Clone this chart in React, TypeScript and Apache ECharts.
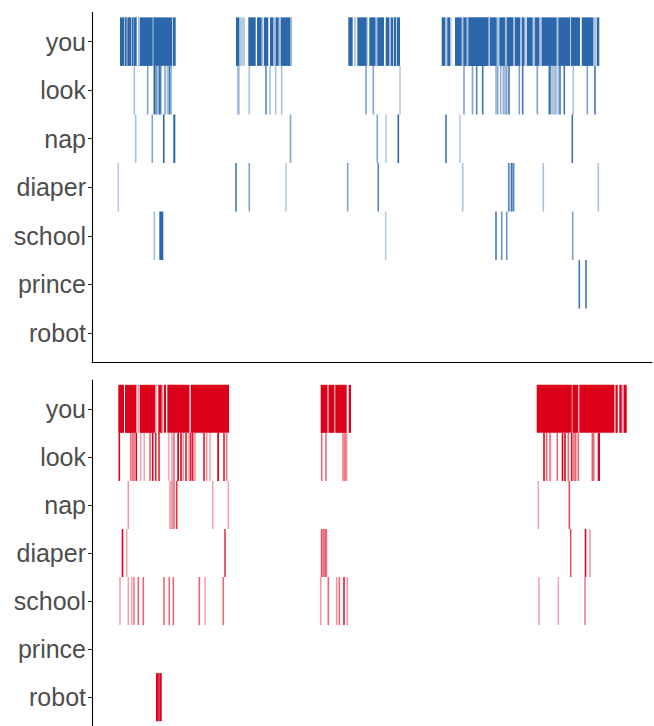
import React, { useEffect, useRef } from "react";
import * as echarts from "echarts";

// Word rows (top to bottom)
const WORDS = ["you", "look", "nap", "diaper", "school", "prince", "robot"];

// Text position range shown on the x axis
const X_MIN = 92;
const X_MAX = 652;

// Marks: [position, strength] for a single occurrence, [from, to, strength] for a dense run
// ---- Blue panel ----
const blueYou = [
  [120, 124, 1], [124, 125, 0.4], [125, 126.7, 1], [127.3, 131.3, 1], [132, 133.3, 1], [133.3, 134, 0.4],
  [134, 136.7, 1], [138, 140, 0.4], [140, 152.7, 1], [153.3, 172, 1], [172.7, 175.7, 1],
  [236, 239.3, 1], [239.3, 245, 0.35], [248.3, 255.7, 1], [257, 261.7, 1], [262, 263.5, 0.4], [264, 268.3, 1],
  [270, 273.3, 1], [273.3, 275.7, 0.4], [275.7, 278.7, 1], [279, 280.5, 0.4], [280.7, 290, 1], [290, 292, 0.5],
  [348.3, 352.7, 1], [354, 356, 0.35], [357.3, 366.7, 1], [366.7, 368, 0.35], [369.3, 375.5, 1], [375.5, 377.3, 0.4],
  [377.3, 384, 1], [385.7, 389.3, 1], [389.5, 391, 0.4], [391, 393.3, 1], [394, 396, 1], [396.7, 400, 1],
  [441.7, 445, 1], [445, 447.3, 0.4], [447.3, 450, 1], [450, 451.5, 0.4], [455, 461.7, 1], [461.7, 463.3, 0.4],
  [463.3, 466.7, 1], [466.7, 468.3, 0.4], [468.3, 488.5, 1], [488.5, 490, 0.4], [490, 496.7, 1], [496.7, 499, 0.4],
  [499.3, 505, 1], [505, 506.7, 0.4], [506.7, 513.3, 1], [513.3, 515, 0.4], [515, 520, 1], [520, 522, 0.4],
  [522, 524.5, 1], [524.5, 527, 0.3], [527, 532.7, 1], [532.7, 535, 0.4], [535, 539.3, 1], [539.3, 541.7, 0.4],
  [541.7, 556.7, 1], [556.7, 558.3, 0.4], [558.3, 570, 1], [570.7, 580, 1], [581.7, 593.3, 1], [593.3, 596, 0.4],
  [596.7, 599.3, 1],
];
const blueLook = [
  [134.3, 0.4], [147.7, 0.6], [154.3, 1], [156, 0.8], [157.7, 0.4], [159.3, 0.9], [160.7, 0.8], [165, 0.6],
  [167.3, 0.4], [169.3, 0.9], [171, 0.6], [237.7, 0.4], [238.9, 0.4], [249.3, 0.4], [266, 0.8], [270, 0.4],
  [275.7, 0.4], [281.7, 0.4], [366, 0.6], [373.3, 0.6], [400, 0.35], [464, 0.6], [472.5, 0.6], [476.7, 0.8],
  [482.7, 0.9], [496, 0.5], [497.7, 0.6], [500.7, 0.5], [503.3, 0.5], [505, 0.5], [506.7, 0.6], [509, 0.9],
  [519.3, 0.6], [522.7, 0.9], [537.3, 0.6], [549.3, 0.9], [550.7, 0.7], [552.7, 0.4], [554.3, 0.4], [556, 0.5],
  [558.3, 0.4], [560, 0.9], [564.3, 0.9], [573.3, 0.4], [587.3, 0.6], [595, 0.9],
];
const blueNap = [
  [135.7, 0.4], [152.3, 0.6], [163, 164.5, 1], [173.3, 175.3, 1], [290.5, 0.6], [377.3, 0.6], [386, 0.35],
  [398.3, 1], [446, 0.9], [460, 0.35], [572.3, 0.9],
];
const blueDiaper = [
  [118.3, 0.35], [236, 0.9], [249.3, 0.6], [286, 0.35], [347.7, 0.6], [377.5, 379, 0.8], [462.7, 0.4],
  [508, 514, 0.25], [508.7, 0.7], [511.7, 0.9], [513.7, 0.7], [543.3, 0.4], [598.3, 0.4],
];
const blueSchool = [
  [154.3, 0.4], [159.3, 163.3, 1], [385.7, 0.35], [496, 0.9], [501.7, 0.7], [506.7, 0.7], [572.7, 0.6],
];
const bluePrince = [[579.3, 0.9], [586, 0.9]];
const blueRobot: number[][] = [];

// ---- Red panel ----
const redYou = [
  [118.3, 124, 1], [125, 136, 1], [136, 137.5, 0.4], [138.5, 139.3, 0.4], [140, 155, 1], [155, 156.7, 0.4],
  [158.3, 161.7, 1], [161.7, 163.3, 0.4], [164, 166, 1], [167.3, 189.3, 1], [189.3, 191, 0.3], [191, 229, 1],
  [320.7, 327.3, 1], [327.3, 328.7, 0.4], [328.7, 334, 1], [334, 335.3, 0.4], [335.3, 346.7, 1], [348.7, 351, 1],
  [536.7, 571.7, 1], [571.7, 572.7, 0.4], [572.7, 578.3, 1], [579.3, 614, 1], [614, 615.7, 0.4], [615.7, 617.7, 1],
  [619.3, 621.7, 1], [621.7, 623.7, 0.35], [623.7, 626.7, 1],
];
const redLook = [
  [119.3, 1], [130.7, 0.5], [132.3, 0.5], [134, 0.6], [136.3, 1], [140.7, 0.35], [144.3, 0.35], [150, 0.6],
  [152.7, 1], [155.7, 0.9], [159, 0.9], [168.7, 0.35], [172, 0.4], [174, 0.6], [177.3, 179, 1], [181, 1],
  [183.3, 0.4], [186, 0.9], [189, 0.4], [190.7, 0.9], [192.7, 0.9], [195, 0.4], [204, 0.9], [206.7, 0.4],
  [210, 0.35], [217.3, 219, 1], [224, 0.9], [226.7, 0.5],
  [321.7, 0.6], [326, 0.6], [342.7, 0.4], [344, 0.4], [345.3, 0.5], [346.7, 0.4],
  [544, 1], [546.7, 0.6], [550, 0.6], [557.3, 0.6], [561.7, 563.3, 1], [565, 1], [568.3, 0.6], [571.7, 1],
  [574, 0.6], [575.7, 0.6], [578.3, 0.6], [592.3, 0.6], [593.7, 0.6], [597.7, 600, 1],
];
const redNap = [
  [128.3, 0.4], [170, 0.4], [172, 0.5], [174, 0.6], [176.7, 0.8], [212.7, 0.35], [228.3, 0.35], [538.3, 0.35],
  [569.3, 0.7],
];
const redDiaper = [
  [121.7, 123.3, 1], [126.7, 0.35], [225, 0.8], [320.7, 327.3, 0.25], [321.7, 0.6], [324, 0.5], [326, 0.6],
  [570.7, 0.7], [585, 586, 1], [590, 0.4],
];
const redSchool = [
  [120, 0.35], [128.3, 0.35], [131.7, 0.35], [134, 0.5], [138.3, 0.6], [143.3, 0.6], [164, 0.6], [169.3, 0.6],
  [173.3, 0.6], [199.3, 0.6], [205, 0.35], [223.3, 0.6], [320.7, 0.4], [328.3, 0.6], [336.7, 0.4], [339.3, 0.6],
  [344, 0.9], [347.3, 0.4], [539, 0.35], [558.3, 0.35], [585, 0.5],
];
const redPrince: number[][] = [];
const redRobot = [[156, 158.7, 1], [158.7, 159.3, 0.4], [159.3, 161.7, 1]];

const BLUE = "#2C67AB";
const RED = "#DD0019";

const BLUE_ROWS = [blueYou, blueLook, blueNap, blueDiaper, blueSchool, bluePrince, blueRobot];
const RED_ROWS = [redYou, redLook, redNap, redDiaper, redSchool, redPrince, redRobot];

function toItems(rows: number[][][]) {
  const out: number[][] = [];
  rows.forEach((marks, i) => {
    marks.forEach((m) => {
      if (m.length === 2) out.push([i + 1, m[0], m[0], m[1]]);
      else out.push([i + 1, m[0], m[1], m[2]]);
    });
  });
  return out;
}

const MIN_W = 1.6;

function makeRender(color: string) {
  return (params: any, api: any) => {
    const row = api.value(0);
    const x0 = api.value(1);
    const x1 = api.value(2);
    const a = api.value(3);
    const p0 = api.coord([x0, row - 0.5]);
    const p1 = api.coord([x1, row + 0.5]);
    let left = Math.min(p0[0], p1[0]);
    let w = Math.abs(p1[0] - p0[0]);
    if (w < MIN_W) {
      const c = (p0[0] + p1[0]) / 2;
      left = c - MIN_W / 2;
      w = MIN_W;
    }
    const top = Math.min(p0[1], p1[1]);
    const h = Math.abs(p1[1] - p0[1]);
    return {
      type: "rect",
      shape: { x: left, y: top, width: w, height: h },
      style: { fill: color, opacity: a },
    };
  };
}

const TICKS = [1, 2, 3, 4, 5, 6, 7];

function yAxis(gridIndex: number) {
  return {
    type: "value",
    gridIndex,
    min: 0.4,
    max: 7.6,
    inverse: true,
    axisLine: { show: true, lineStyle: { color: "#000", width: 1.1 } },
    axisTick: { show: true, customValues: TICKS, length: 4, lineStyle: { color: "#333", width: 1.1 } },
    axisLabel: {
      show: true,
      customValues: TICKS,
      margin: 6,
      fontSize: 25,
      color: "#4D4D4D",
      padding: [4, 0, 0, 0],
      fontFamily: "Liberation Sans, Arial, sans-serif",
      formatter: (v: number) => WORDS[Math.round(v) - 1] ?? "",
    },
    splitLine: { show: false },
  };
}

function xAxis(gridIndex: number) {
  return {
    type: "value",
    gridIndex,
    min: X_MIN,
    max: X_MAX,
    axisLine: { show: true, onZero: false, lineStyle: { color: "#000", width: 1.1 } },
    axisTick: { show: false },
    axisLabel: { show: false },
    splitLine: { show: false },
  };
}

export default function App() {
  const ref = useRef<HTMLDivElement>(null);
  useEffect(() => {
    if (!ref.current) return;
    const chart = echarts.init(ref.current, null, { renderer: "svg" });
    chart.setOption({
      animation: false,
      backgroundColor: "#fff",
      grid: [
        { left: X_MIN, width: X_MAX - X_MIN, top: 12.5, height: 349.5 },
        { left: X_MIN, width: X_MAX - X_MIN, top: 380, height: 350 },
      ],
      xAxis: [xAxis(0), xAxis(1)],
      yAxis: [yAxis(0), yAxis(1)],
      series: [
        {
          type: "custom",
          xAxisIndex: 0,
          yAxisIndex: 0,
          renderItem: makeRender(BLUE),
          encode: { x: [1, 2], y: 0 },
          data: toItems(BLUE_ROWS),
        },
        {
          type: "custom",
          xAxisIndex: 1,
          yAxisIndex: 1,
          renderItem: makeRender(RED),
          encode: { x: [1, 2], y: 0 },
          data: toItems(RED_ROWS),
        },
      ],
    });
    return () => chart.dispose();
  }, []);
  return (
    <div
      ref={ref}
      style={{ position: "fixed", left: 0, top: 0, width: 654, height: 726, background: "#fff" }}
    />
  );
}
